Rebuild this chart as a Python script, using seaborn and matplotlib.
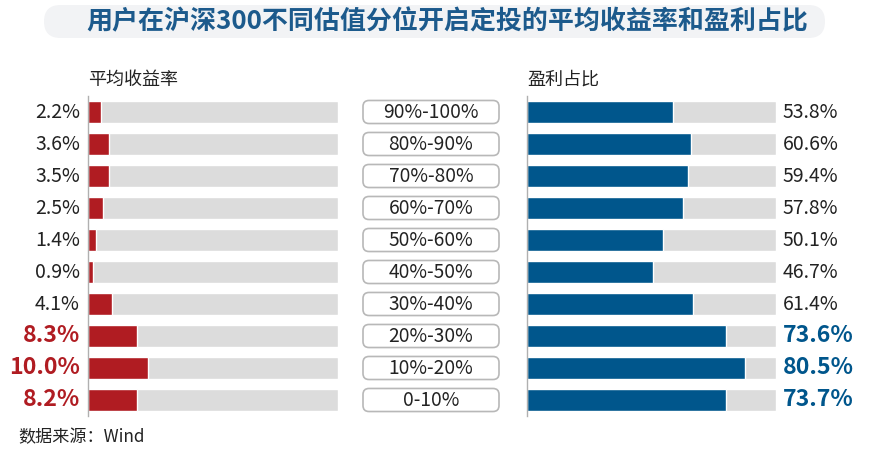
import matplotlib
matplotlib.use("Agg")
import matplotlib.pyplot as plt
from matplotlib.patches import FancyBboxPatch
import seaborn as sns
import pandas as pd

sns.set_theme(style="white")
plt.rcParams['font.family'] = ['Noto Sans CJK SC', 'DejaVu Sans']

# ---- data ----
categories = ["90%-100%", "80%-90%", "70%-80%", "60%-70%", "50%-60%",
              "40%-50%", "30%-40%", "20%-30%", "10%-20%", "0-10%"]
avg_return = [2.2, 3.6, 3.5, 2.5, 1.4, 0.9, 4.1, 8.3, 10.0, 8.2]
profit_ratio = [53.8, 60.6, 59.4, 57.8, 50.1, 46.7, 61.4, 73.6, 80.5, 73.7]
highlight = [False] * 7 + [True] * 3
left_max = 42.0
right_max = 92.0

title = "用户在沪深300不同估值分位开启定投的平均收益率和盈利占比"
left_header = "平均收益率"
right_header = "盈利占比"
source = "数据来源：Wind"

RED = "#b01c22"
BLUE = "#00568c"
GREY = "#dcdcdc"
TITLE_C = "#1c5a8c"
TXT = "#222222"

df = pd.DataFrame({"cat": categories, "ret": avg_return, "prof": profit_ratio,
                   "lbg": [left_max] * len(categories),
                   "rbg": [right_max] * len(categories)})

W, H = 870, 458
fig = plt.figure(figsize=(W / 100, H / 100), dpi=100)

# background overlay in pixel coords
bg = fig.add_axes([0, 0, 1, 1], zorder=-1)
bg.set_xlim(0, W)
bg.set_ylim(H, 0)
bg.axis("off")
bg.add_patch(FancyBboxPatch((44, 5), 781, 33,
                            boxstyle="round,pad=0,rounding_size=16.5",
                            facecolor="#f2f3f5", edgecolor="none"))
bg.text(447, 22, title, ha="center", va="center", fontsize=18.7,
        color=TITLE_C, fontweight="bold")
bg.text(88, 80, left_header, ha="left", va="center", fontsize=13, color=TXT)
bg.text(527, 80, right_header, ha="left", va="center", fontsize=13, color=TXT)
bg.text(18, 437, source, ha="left", va="center", fontsize=12.3, color=TXT)

top = 1 - 96 / H
bottom = 1 - 416 / H
h = top - bottom

barw = 0.68

# left panel
axl = fig.add_axes([88 / W, bottom, 250 / W, h])
sns.barplot(data=df, x="lbg", y="cat", orient="h", color=GREY,
            width=barw, ax=axl, saturation=1)
sns.barplot(data=df, x="ret", y="cat", orient="h", color=RED,
            width=barw, ax=axl, saturation=1)
axl.set_xlim(0, left_max)
axl.set_ylim(len(categories) - 0.5, -0.5)

# right panel
axr = fig.add_axes([527 / W, bottom, 249 / W, h])
sns.barplot(data=df, x="rbg", y="cat", orient="h", color=GREY,
            width=barw, ax=axr, saturation=1)
sns.barplot(data=df, x="prof", y="cat", orient="h", color=BLUE,
            width=barw, ax=axr, saturation=1)
axr.set_xlim(0, right_max)
axr.set_ylim(len(categories) - 0.5, -0.5)

for ax in (axl, axr):
    ax.set_xlabel("")
    ax.set_ylabel("")
    ax.set_xticks([])
    ax.set_yticks([])
    for s in ("top", "right", "bottom"):
        ax.spines[s].set_visible(False)
    ax.spines["left"].set_color("#b0b0b0")
    ax.spines["left"].set_linewidth(1.0)
    ax.patch.set_alpha(0)

for i, (v, p, hl) in enumerate(zip(avg_return, profit_ratio, highlight)):
    if hl:
        axl.annotate(f"{v:.1f}%", xy=(0, i), xytext=(-8, 0),
                     textcoords="offset pixels", ha="right", va="center",
                     fontsize=16.7, fontweight="bold", color=RED)
        axr.annotate(f"{p:.1f}%", xy=(right_max, i), xytext=(7, 0),
                     textcoords="offset pixels", ha="left", va="center",
                     fontsize=16.7, fontweight="bold", color=BLUE)
    else:
        axl.annotate(f"{v:.1f}%", xy=(0, i), xytext=(-8, 0),
                     textcoords="offset pixels", ha="right", va="center",
                     fontsize=14, color=TXT)
        axr.annotate(f"{p:.1f}%", xy=(right_max, i), xytext=(7, 0),
                     textcoords="offset pixels", ha="left", va="center",
                     fontsize=14, color=TXT)

# middle category boxes
axm = fig.add_axes([362 / W, bottom, 138 / W, h])
axm.set_xlim(0, 138)
axm.set_ylim(len(categories) - 0.5, -0.5)
axm.axis("off")
for i, c in enumerate(categories):
    axm.add_patch(FancyBboxPatch((1, i - 0.36), 136, 0.72,
                                 boxstyle="round,pad=0,rounding_size=6",
                                 mutation_aspect=1 / 32,
                                 facecolor="white", edgecolor="#b8b8b8",
                                 linewidth=1.2))
    axm.text(69, i, c, ha="center", va="center", fontsize=13.8, color=TXT)

fig.savefig("out.png", dpi=100)
